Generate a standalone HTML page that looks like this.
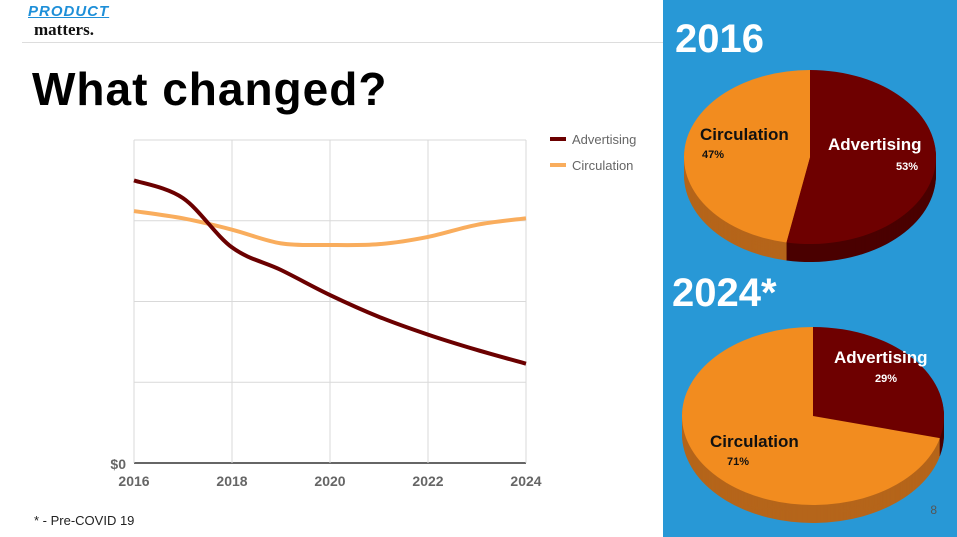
<!DOCTYPE html>
<html><head><meta charset="utf-8"><style>
body{margin:0;width:957px;height:537px;overflow:hidden;background:#fff;font-family:"Liberation Sans",sans-serif;position:relative}
.abs{position:absolute}
</style></head><body>
<div class="abs" style="left:28px;top:3px;font:italic bold 15px 'Liberation Sans',sans-serif;color:#1e8fd8;letter-spacing:1px;text-decoration:underline">PRODUCT</div>
<div class="abs" style="left:34px;top:20px;font:bold 17px 'Liberation Serif',serif;color:#111">matters.</div>
<div class="abs" style="left:22px;top:42px;width:641px;height:1px;background:#ddd"></div>
<div class="abs" style="left:32px;top:62px;font:bold 46px 'Liberation Sans',sans-serif;color:#000;letter-spacing:1px">What changed?</div>
<div class="abs" style="left:34px;top:513px;font-size:13px;color:#222">* - Pre-COVID 19</div>
<svg class="abs" style="left:0;top:0" width="957" height="537" id="svg"></svg>
<script>
const years=[2016,2017,2018,2019,2020,2021,2022,2023,2024];
const advertising=[3.50,3.28,2.67,2.39,2.08,1.81,1.59,1.40,1.23];
const circulation=[3.12,3.03,2.89,2.72,2.70,2.71,2.80,2.95,3.03];
const xTicks=[2016,2018,2020,2022,2024];
const yTicks=[0,1,2,3,4];
const pie2016=[53,47];
const pie2024=[29,71];
const NS='http://www.w3.org/2000/svg';
const svg=document.getElementById('svg');
function mk(t,a,p){const e=document.createElementNS(NS,t);for(const k in a)e.setAttribute(k,a[k]);(p||svg).appendChild(e);return e;}
const X0=134,X1=526,Y0=463,Y1=140;
const xs=v=>X0+(v-2016)/8*(X1-X0);
const ys=v=>Y0-v/4*(Y0-Y1);
yTicks.forEach(t=>{const g=mk('line',{x1:X0,x2:X1,y1:ys(t),y2:ys(t),stroke:t==0?'#333':'#d9d9d9','stroke-width':t==0?1.5:1});
});
xTicks.forEach(t=>{const g=mk('line',{x1:xs(t),x2:xs(t),y1:Y1,y2:Y0,stroke:'#d9d9d9'});

const l=mk('text',{x:xs(t),y:486,'text-anchor':'middle','font-size':14,'font-weight':'bold',fill:'#666'});l.textContent=t;
});
const z=mk('text',{x:126,y:469,'text-anchor':'end','font-size':14,'font-weight':'bold',fill:'#666'});z.textContent='$0';

function curve(vals){const p=vals.map((v,i)=>[xs(years[i]),ys(v)]);let d='M'+p[0][0]+','+p[0][1];
for(let i=0;i<p.length-1;i++){const a=p[i-1]||p[i],b=p[i],c=p[i+1],e=p[i+2]||c;
d+=' C'+(b[0]+(c[0]-a[0])/6)+','+(b[1]+(c[1]-a[1])/6)+' '+(c[0]-(e[0]-b[0])/6)+','+(c[1]-(e[1]-b[1])/6)+' '+c[0]+','+c[1];}return d;}
const lc=mk('path',{d:curve(circulation),fill:'none',stroke:'#f9ad5d','stroke-width':4});

const la=mk('path',{d:curve(advertising),fill:'none',stroke:'#6b0000','stroke-width':4});

[['Advertising','#6b0000',139],['Circulation','#f9ad5d',165]].forEach(([n,c,y])=>{
const g=mk('g',{});
mk('line',{x1:550,x2:566,y1:y,y2:y,stroke:c,'stroke-width':4},g);
const t=mk('text',{x:572,y:y+5,'font-size':13,fill:'#666'},g);t.textContent=n;});
const bg=mk('rect',{x:663,y:0,width:294,height:537,fill:'#2898d6'});

function pie(vals,cx,cy,rx,ry,name){
const g=mk('g',{});
const cols=['#6e0000','#f28c1f'],dark=['#4a0000','#b5651a'];
const pt=a=>[cx+rx*Math.sin(a),cy-ry*Math.cos(a)];
function wedge(a0,a1,dy,fill){const p0=pt(a0),p1=pt(a1);
return mk('path',{d:`M${cx},${cy+dy} L${p0[0]},${p0[1]+dy} A${rx},${ry} 0 ${a1-a0>Math.PI?1:0} 1 ${p1[0]},${p1[1]+dy} Z`,fill:fill},g);}
for(let dy=18;dy>0;dy-=1){let a=0;vals.forEach((v,i)=>{const a1=a+v/100*2*Math.PI;wedge(a,a1,dy,dark[i]);a=a1;});}
let a=0;vals.forEach((v,i)=>{const a1=a+v/100*2*Math.PI;const w=wedge(a,a1,0,cols[i]);
a=a1;});
}
pie(pie2016,810,157,126,87,'pie-2016');
pie(pie2024,813,416,131,89,'pie-2024');
function txt(x,y,s,fs,fill,name,anchor){const t=mk('text',{x:x,y:y,'font-size':fs,'font-weight':'bold',fill:fill,'text-anchor':anchor||'start'});t.textContent=s;
}
txt(675,52,'2016',40,'#fff','title-2016');
txt(672,306,'2024*',40,'#fff','title-2024');
txt(700,140,'Circulation',17,'#111','label-circ-2016');
txt(702,158,pie2016[1]+'%',11,'#111','pct-circ-2016');
txt(828,150,'Advertising',17,'#fff','label-adv-2016');
txt(918,170,pie2016[0]+'%',11,'#fff','pct-adv-2016','end');
txt(834,363,'Advertising',17,'#fff','label-adv-2024');
txt(897,382,pie2024[0]+'%',11,'#fff','pct-adv-2024','end');
txt(710,447,'Circulation',17,'#111','label-circ-2024');
txt(727,465,pie2024[1]+'%',11,'#111','pct-circ-2024');
const pn=mk('text',{x:937,y:514,'font-size':12,fill:'#555','text-anchor':'end'});pn.textContent='8';

</script>
</body></html>
